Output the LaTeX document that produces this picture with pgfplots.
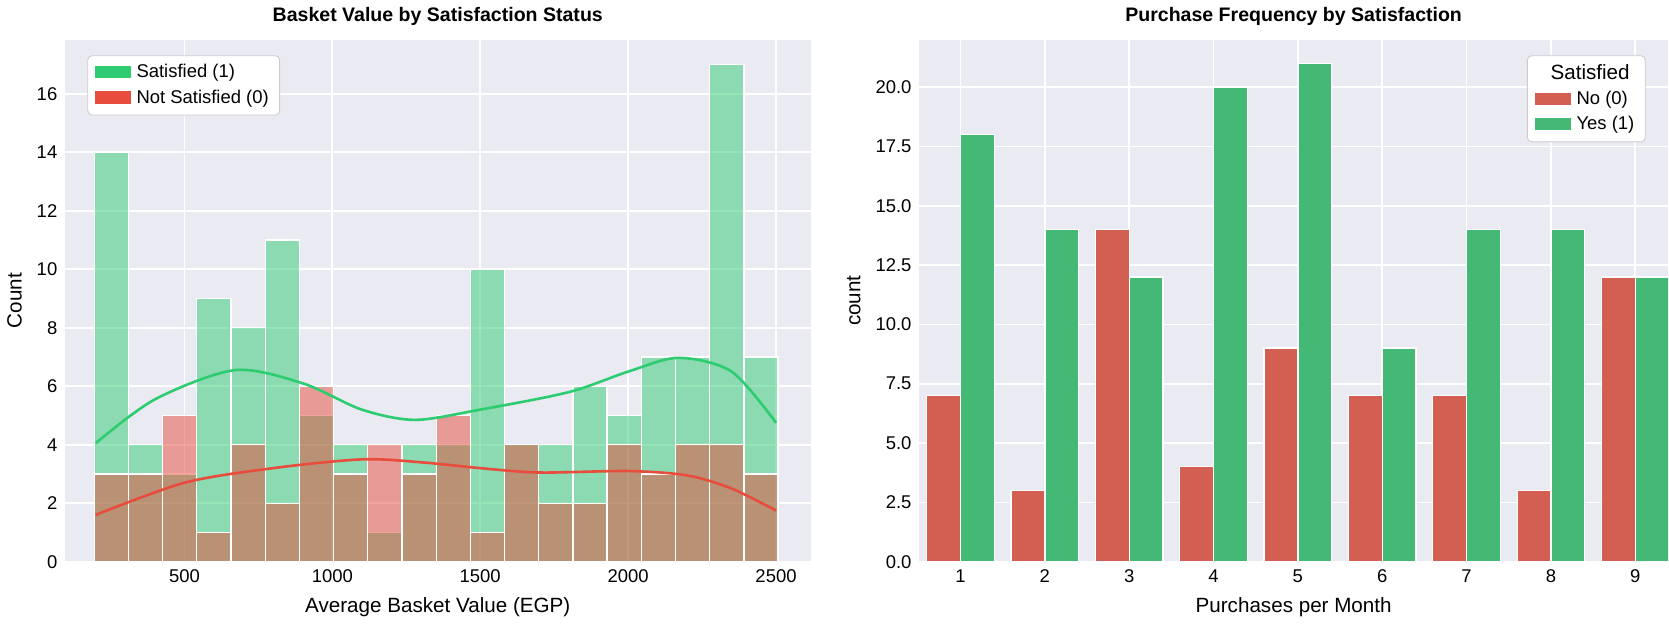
\documentclass[border=0pt]{standalone}
\usepackage{pgfplots}
\pgfplotsset{compat=1.18}
\usepackage{fontspec}
\setmainfont{Liberation Sans}
\definecolor{bgc}{HTML}{EAEAF2}
\definecolor{gS}{HTML}{2ECC71}
\definecolor{rS}{HTML}{E74C3C}
\definecolor{gB}{HTML}{44B875}
\definecolor{rB}{HTML}{D35F52}
\pgfplotsset{sb/.style={
  scale only axis, axis background/.style={fill=bgc}, axis line style={draw=none},
  grid=major, grid style={white, line width=0.8pt}, tick style={draw=none},
  /pgf/number format/assume math mode=true,
  tick label style={font=\fontsize{8.5}{10}\selectfont},
  label style={font=\fontsize{9.5}{11}\selectfont},
  title style={font=\bfseries\fontsize{9}{11}\selectfont, yshift=-3pt},
  legend style={font=\fontsize{8.5}{10}\selectfont, fill=white, draw=gray!40, rounded corners=2pt},
  legend cell align=left,
  legend image code/.code={\draw[sharp corners, #1] (0cm,-0.1cm) rectangle (0.6cm,0.12cm);},
}}
\begin{document}
\begin{tikzpicture}
\begin{axis}[sb, at={(39pt,55pt)}, width=343.5pt, height=240.5pt,
  xmin=96, xmax=2617, ymin=0, ymax=17.85,
  xtick={500,1000,1500,2000,2500}, ytick={0,2,...,16},
  xticklabel style={/pgf/number format/1000 sep={}},
  xlabel={Average Basket Value (EGP)}, ylabel={Count},
  title={Basket Value by Satisfaction Status},
  legend pos=north west]
\addplot[ybar interval, fill=gS, fill opacity=0.5, draw=white, line width=0.6pt, forget plot] coordinates {
(195,14)(310.6,4)(426.2,3)(541.8,9)(657.4,8)(773,11)(888.6,5)(1004.2,4)(1119.8,1)(1235.4,4)
(1351,4)(1466.6,10)(1582.2,4)(1697.8,4)(1813.4,6)(1929,5)(2044.6,7)(2160.2,7)(2275.8,17)(2391.4,7)(2507,7)};
\addplot[ybar interval, fill=rS, fill opacity=0.5, draw=white, line width=0.6pt, forget plot] coordinates {
(195,3)(310.6,3)(426.2,5)(541.8,1)(657.4,4)(773,2)(888.6,6)(1004.2,3)(1119.8,4)(1235.4,3)
(1351,5)(1466.6,1)(1582.2,4)(1697.8,2)(1813.4,2)(1929,4)(2044.6,3)(2160.2,4)(2275.8,4)(2391.4,3)(2507,3)};
\addplot[gS, line width=1.2pt, smooth, forget plot] coordinates {(200,4.05)(400,5.55)(670,6.55)(900,6.1)(1100,5.2)(1280,4.85)(1500,5.2)(1800,5.8)(2000,6.5)(2170,6.97)(2350,6.5)(2500,4.75)};
\addplot[rS, line width=1.2pt, smooth, forget plot] coordinates {(200,1.6)(500,2.7)(800,3.2)(1100,3.5)(1300,3.4)(1500,3.2)(1700,3.05)(2000,3.1)(2200,2.95)(2350,2.5)(2500,1.75)};
\addlegendimage{fill=gS, draw=white}\addlegendentry{Satisfied (1)}
\addlegendimage{fill=rS, draw=white}\addlegendentry{Not Satisfied (0)}
\end{axis}
\begin{axis}[sb, at={(432.5pt,55pt)}, width=345pt, height=240.5pt,
  xmin=0.51, xmax=9.39, ymin=0, ymax=22,
  xtick={1,...,9}, ytick={0,2.5,...,20},
  yticklabel style={/pgf/number format/.cd, fixed, fixed zerofill, precision=1},
  xlabel={Purchases per Month}, ylabel={count},
  title={Purchase Frequency by Satisfaction},
  legend pos=north east]
\addlegendimage{empty legend}\addlegendentry{\hspace{-12pt}\fontsize{9.5}{11}\selectfont Satisfied}
\addplot[ybar, bar width=0.4, bar shift=-0.2, fill=rB, draw=white, line width=0.6pt] coordinates {(1,7)(2,3)(3,14)(4,4)(5,9)(6,7)(7,7)(8,3)(9,12)};
\addlegendentry{No (0)}
\addplot[ybar, bar width=0.4, bar shift=0.2, fill=gB, draw=white, line width=0.6pt] coordinates {(1,18)(2,14)(3,12)(4,20)(5,21)(6,9)(7,14)(8,14)(9,12)};
\addlegendentry{Yes (1)}
\end{axis}
\end{tikzpicture}
\end{document}
